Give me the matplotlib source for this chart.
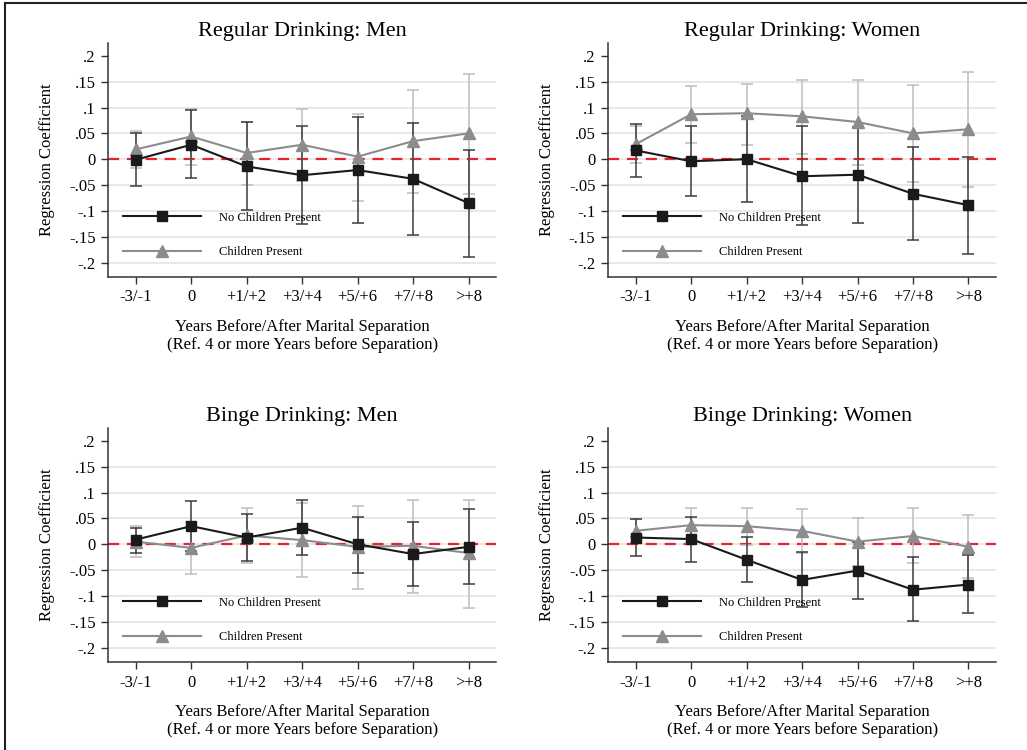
import numpy as np
import matplotlib
matplotlib.use("Agg")
import matplotlib.pyplot as plt
from matplotlib.lines import Line2D

plt.rcParams['font.family'] = ['Liberation Serif', 'DejaVu Serif']

periods = ["-3/-1", "0", "+1/+2", "+3/+4", "+5/+6", "+7/+8", ">+8"]
yticks = [0.2, 0.15, 0.1, 0.05, 0, -0.05, -0.1, -0.15, -0.2]
ytick_labels = [".2", ".15", ".1", ".05", "0", "-.05", "-.1", "-.15", "-.2"]

titles = ["Regular Drinking: Men", "Regular Drinking: Women",
          "Binge Drinking: Men", "Binge Drinking: Women"]

# No children present: coefficient, lower CI, upper CI
nokid_coef = [
    [-0.001, 0.028, -0.014, -0.031, -0.021, -0.038, -0.085],
    [0.017, -0.004, 0.000, -0.033, -0.030, -0.067, -0.089],
    [0.009, 0.035, 0.013, 0.032, 0.000, -0.019, -0.005],
    [0.013, 0.010, -0.030, -0.069, -0.051, -0.088, -0.078],
]
nokid_lo = [
    [-0.052, -0.037, -0.098, -0.125, -0.123, -0.146, -0.189],
    [-0.034, -0.072, -0.082, -0.128, -0.123, -0.156, -0.184],
    [-0.016, -0.013, -0.032, -0.021, -0.056, -0.080, -0.077],
    [-0.023, -0.035, -0.073, -0.121, -0.106, -0.149, -0.134],
]
nokid_hi = [
    [0.050, 0.095, 0.072, 0.064, 0.081, 0.071, 0.018],
    [0.069, 0.065, 0.083, 0.064, 0.063, 0.023, 0.005],
    [0.032, 0.083, 0.058, 0.085, 0.053, 0.043, 0.068],
    [0.048, 0.052, 0.015, -0.015, 0.004, -0.024, -0.021],
]

# Children present
kid_coef = [
    [0.019, 0.044, 0.012, 0.028, 0.005, 0.035, 0.050],
    [0.029, 0.087, 0.089, 0.083, 0.072, 0.050, 0.058],
    [0.005, -0.007, 0.017, 0.008, -0.005, -0.003, -0.017],
    [0.026, 0.037, 0.035, 0.026, 0.005, 0.016, -0.005],
]
kid_lo = [
    [-0.017, -0.012, -0.050, -0.043, -0.080, -0.065, -0.067],
    [-0.008, 0.032, 0.028, 0.010, -0.011, -0.045, -0.054],
    [-0.025, -0.058, -0.037, -0.064, -0.086, -0.095, -0.124],
    [0.004, 0.003, -0.002, -0.017, -0.042, -0.037, -0.065],
]
kid_hi = [
    [0.054, 0.098, 0.072, 0.098, 0.087, 0.133, 0.164],
    [0.065, 0.142, 0.146, 0.153, 0.153, 0.144, 0.169],
    [0.035, 0.043, 0.071, 0.079, 0.074, 0.086, 0.085],
    [0.048, 0.070, 0.070, 0.068, 0.051, 0.070, 0.056],
]

fig = plt.figure(figsize=(10.27, 7.5), dpi=100)

lefts = [0.1052, 0.592, 0.1052, 0.592]
bottoms = [0.6307, 0.6307, 0.1173, 0.1173]
w, h = 0.378, 0.312

x = np.arange(len(periods))
for i in range(4):
    ax = fig.add_axes([lefts[i], bottoms[i], w, h])
    for yv in yticks[1:]:
        ax.axhline(yv, color='#e6e6e6', lw=1.3, zorder=0)
    ax.axhline(0, color='#e8232b', lw=1.6, ls=(0, (5, 3.5)), zorder=1)

    c = np.array(kid_coef[i])
    ax.errorbar(x, c, yerr=[c - np.array(kid_lo[i]), np.array(kid_hi[i]) - c],
                fmt='none', ecolor='#bdbdbd', elinewidth=1.1, capsize=4, capthick=1.1, zorder=2)
    c2 = np.array(nokid_coef[i])
    ax.errorbar(x, c2, yerr=[c2 - np.array(nokid_lo[i]), np.array(nokid_hi[i]) - c2],
                fmt='none', ecolor='#3c3c3c', elinewidth=1.1, capsize=4, capthick=1.1, zorder=3)
    ax.plot(x, c, color='#8c8c8c', lw=1.5, marker='^', ms=8, mfc='#8c8c8c', mec='#8c8c8c', zorder=4)
    ax.plot(x, c2, color='#1a1a1a', lw=1.5, marker='s', ms=7.5, mfc='#1a1a1a', mec='#1a1a1a', zorder=5)

    ax.set_xlim(-0.5, 6.5)
    ax.set_ylim(-0.228, 0.225)
    ax.set_xticks(x)
    ax.set_xticklabels(periods, fontsize=12)
    ax.set_yticks(yticks)
    ax.set_yticklabels(ytick_labels, fontsize=12)
    ax.tick_params(axis='both', length=5, width=1, color='#333333', pad=4)
    for s in ['top', 'right']:
        ax.spines[s].set_visible(False)
    for s in ['left', 'bottom']:
        ax.spines[s].set_color('#333333')
        ax.spines[s].set_linewidth(1.1)
    ax.set_title(titles[i], fontsize=16, pad=5)
    ax.set_ylabel("Regression Coefficient", fontsize=12, labelpad=10)
    ax.set_xlabel("Years Before/After Marital Separation\n(Ref. 4 or more Years before Separation)",
                  fontsize=12, labelpad=10, linespacing=1.1)

    handles = [Line2D([], [], color='#1a1a1a', lw=1.5, marker='s', ms=7.5),
               Line2D([], [], color='#8c8c8c', lw=1.5, marker='^', ms=8)]
    ax.legend(handles, ["No Children Present", "Children Present"], loc='lower left',
              bbox_to_anchor=(0.01, 0.032), frameon=False, fontsize=9,
              handlelength=6.2, handletextpad=1.5, labelspacing=1.8)

# outer frame (top and left edges visible)
fig.add_artist(Line2D([0.0045, 1.0], [0.9955, 0.9955], color='#222222', lw=1.5))
fig.add_artist(Line2D([0.0045, 0.0045], [0.0, 0.9955], color='#222222', lw=1.5))

fig.savefig("out.png", dpi=100)
